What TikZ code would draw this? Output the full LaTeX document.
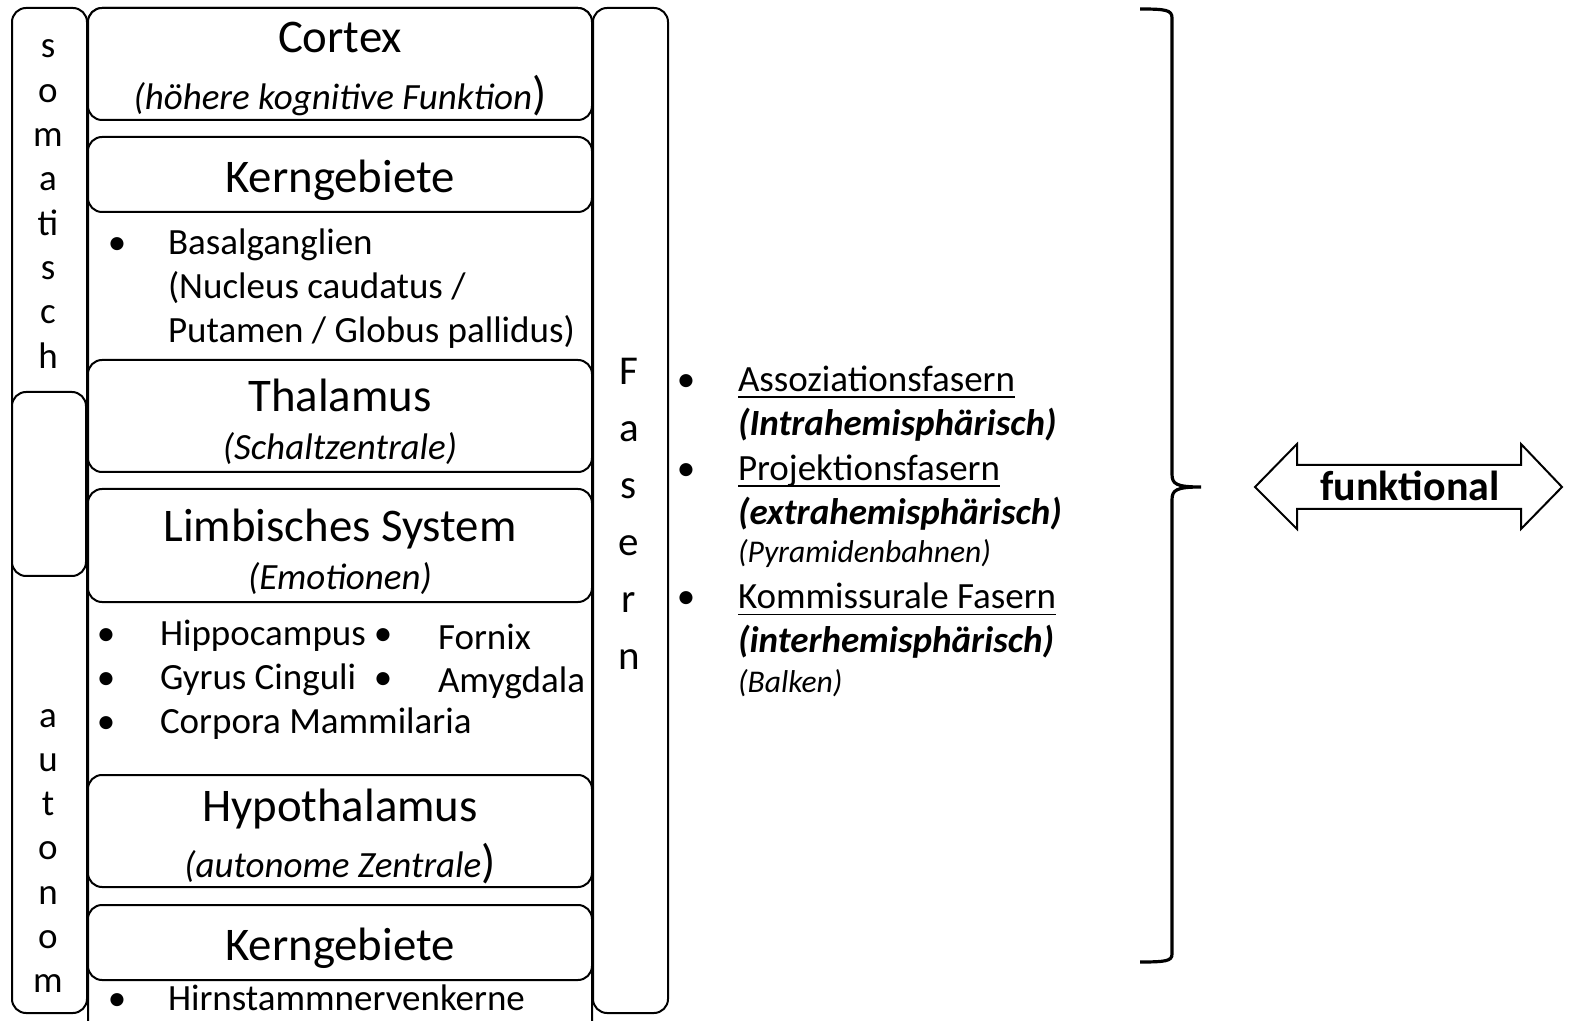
\documentclass[tikz,border=0pt]{standalone}
\usepackage{fontspec}
\setmainfont{Carlito}
\newcommand\fsTitle{\fontsize{23.4}{28}\selectfont}
\newcommand\fsBody{\fontsize{18.5}{22}\selectfont}
\newcommand\fsSmall{\fontsize{15.8}{19}\selectfont}
\newcommand\fsFas{\fontsize{20.5}{24}\selectfont}
\newcommand\fsArrow{\fontsize{21}{25}\selectfont}
\begin{document}
\begin{tikzpicture}[x=0.5pt,y=-0.5pt,
  box/.style={draw, line width=1pt, rounded corners=7pt, fill=white, inner sep=0pt, outer sep=0pt},
  ctxt/.style={inner sep=0pt, outer sep=0pt, anchor=base},
  ltxt/.style={inner sep=0pt, outer sep=0pt, anchor=base west},
  bul/.style={inner sep=0pt, outer sep=0pt, anchor=base, font=\fsBody},
  title/.style={ctxt, font=\fsTitle},
  sub/.style={ctxt, font=\fsBody\itshape},
  body/.style={ltxt, font=\fsBody},
  letter/.style={ctxt, font=\fsBody},
  fletter/.style={ctxt, font=\fsFas},
  uline/.style={line width=0.7pt},
]
\useasboundingbox (0,0) rectangle (1575,1021);

% outer centre column (cut at the lower edge)
\begin{scope}
  \clip (0,0) rectangle (1575,1021);
  \draw[line width=1pt, rounded corners=7pt] (88,8) rectangle (592,1050);
\end{scope}

% side columns
\node[box, minimum width=37.5pt, minimum height=502.5pt] (soma) at (49.5,510.5) {};
\node[box, minimum width=37pt, minimum height=92pt] (mid) at (49,484) {};
\node[box, minimum width=37.5pt, minimum height=502.5pt] (fas) at (630.5,510.5) {};

% centre boxes
\node[box, minimum width=252pt, minimum height=56pt] (cortex) at (340,64) {};
\node[box, minimum width=252pt, minimum height=37.5pt] (kern1) at (340,174.5) {};
\node[box, minimum width=252pt, minimum height=56pt] (thal) at (340,416) {};
\node[box, minimum width=252pt, minimum height=56.5pt] (limb) at (340,545.5) {};
\node[box, minimum width=252pt, minimum height=56pt] (hypo) at (340,831) {};
\node[box, minimum width=252pt, minimum height=37.5pt] (kern2) at (340,942.5) {};

% titles and subtitles
\node[title] (tcortex) at (340,53) {Cortex};
\node[ctxt] (scortex) at (340,110) {{\fsBody\itshape (höhere kognitive Funktion}{\fsTitle)}};
\node[title] (tkern1) at (340,193) {Kerngebiete};
\node[title] (tthal) at (340,412) {Thalamus};
\node[sub] (sthal) at (340,460) {(Schaltzentrale)};
\node[title] (tlimb) at (340,542) {Limbisches System};
\node[sub] (slimb) at (340,589) {(Emotionen)};
\node[title] (thypo) at (340,821) {Hypothalamus};
\node[ctxt] (shypo) at (340,877) {{\fsBody\itshape (autonome Zentrale}{\fsTitle)}};
\node[title] (tkern2) at (340,960) {Kerngebiete};

% lists in the centre column
\node[bul] (b1) at (117,255) {•};
\node[body] (l1) at (168,255) {Basalganglien};
\node[body] (l2) at (168,299) {(Nucleus caudatus /};
\node[body] (l3) at (168,343) {Putamen / Globus pallidus)};

\node[bul] (b2) at (106,646) {•};
\node[body] (h1) at (160,646) {Hippocampus};
\node[bul] (b3) at (383,646) {•};
\node[body] (h2) at (438,649) {Fornix};
\node[bul] (b4) at (106,689) {•};
\node[body] (h3) at (160,689) {Gyrus Cinguli};
\node[bul] (b5) at (383,689) {•};
\node[body] (h4) at (438,692) {Amygdala};
\node[bul] (b6) at (106,733) {•};
\node[body] (h5) at (160,733) {Corpora Mammilaria};

\node[bul] (b7) at (117,1010) {•};
\node[body] (hirn) at (168,1010) {Hirnstammnervenkerne};

% vertical words
\foreach \l [count=\i from 0] in {s,o,m,a,ti,s,c,h}
  \node[letter] (so\i) at (48,{58+44.3*\i}) {\l};
\foreach \l [count=\i from 0] in {a,u,t,o,n,o,m}
  \node[letter] (au\i) at (48,{727+44.3*\i}) {\l};
\foreach \l [count=\i from 0] in {F,a,s,e,r,n}
  \node[fletter] (fa\i) at (629,{385+56.8*\i}) {\l};

% fibre list
\node[bul] (r1) at (686,392) {•};
\node[body] (f1) at (738,392) {Assoziationsfasern};
\node[body, font=\fsBody\bfseries\itshape] (f2) at (738,436) {(Intrahemisphärisch)};
\node[bul] (r2) at (686,481) {•};
\node[body] (f3) at (738,481) {Projektionsfasern};
\node[body, font=\fsBody\bfseries\itshape] (f4) at (738,524) {(extrahemisphärisch)};
\node[ltxt, font=\fsSmall\itshape] (f5) at (738,563) {(Pyramidenbahnen)};
\node[bul] (r3) at (686,609) {•};
\node[body] (f6) at (738,609) {Kommissurale Fasern};
\node[body, font=\fsBody\bfseries\itshape] (f7) at (738,652) {(interhemisphärisch)};
\node[ltxt, font=\fsSmall\itshape] (f8) at (738,692) {(Balken)};
\foreach \n in {f1,f3,f6}
  \draw[uline] ([yshift=-2.6pt]\n.base west) -- ([yshift=-2.6pt]\n.base east);

% brace
\coordinate (btop) at (1140,9);
\coordinate (bbot) at (1140,962);
\coordinate (btip) at (1201,487);
\draw[line width=1.6pt] (btop) .. controls (1166,9) and (1172,10) .. (1172,18)
  -- (1172,474) .. controls (1172,484) and (1176,487) .. (btip)
  (btip) .. controls (1176,487) and (1172,490) .. (1172,500)
  -- (1172,954) .. controls (1172,961) and (1166,962) .. (bbot);

% double arrow
\draw[line width=1pt, fill=white, line join=miter]
  (1255,487) -- (1297,444) -- (1297,465) -- (1521,465) -- (1521,444)
  -- (1562,487) -- (1521,529) -- (1521,509) -- (1297,509) -- (1297,529) -- cycle;
\node[ctxt, font=\fsArrow\bfseries] (funk) at (1410,501) {funktional};
\end{tikzpicture}
\end{document}
